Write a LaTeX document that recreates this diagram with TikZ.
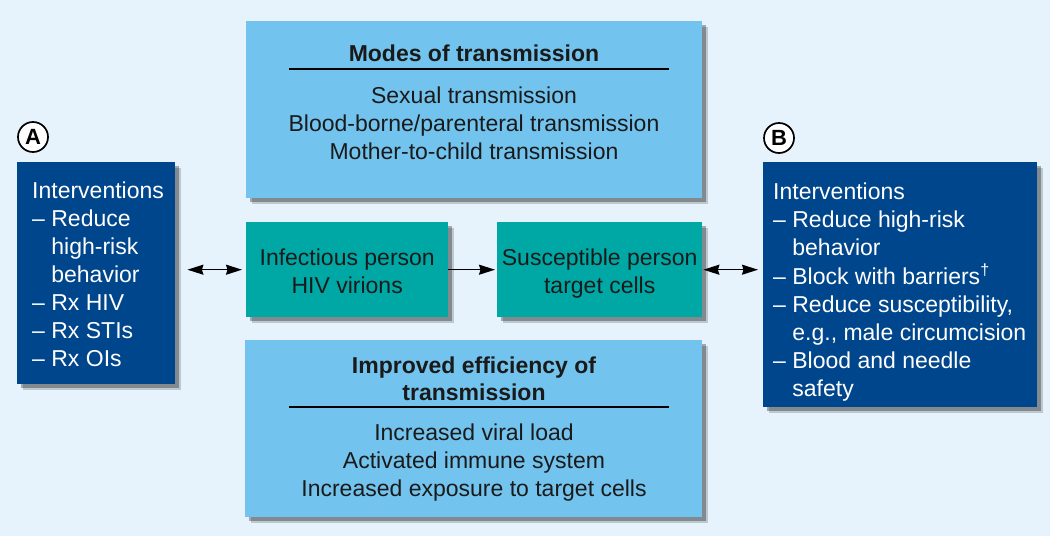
\documentclass[tikz,border=0pt]{standalone}
\usepackage{fontspec}
\setmainfont{Liberation Sans}
\usetikzlibrary{shadows,arrows.meta}
\definecolor{bg}{HTML}{E6F3FC}
\definecolor{lblue}{HTML}{72C3EE}
\definecolor{teal2}{HTML}{00A8A5}
\definecolor{dblue}{HTML}{00468C}
\definecolor{ink}{HTML}{1A1A1A}
\begin{document}
\begin{tikzpicture}[x=1pt,y=-1pt,
  font=\fontsize{23}{28}\selectfont,
  shadowed/.style={drop shadow={shadow xshift=6pt,shadow yshift=-6pt,opacity=0.18,fill=black},
                   drop shadow={shadow xshift=4pt,shadow yshift=-4pt,opacity=0.3,fill=black}},
  boxbase/.style={anchor=north west, inner sep=0pt, shadowed},
  lbox/.style={boxbase, fill=lblue},
  tbox/.style={boxbase, fill=teal2},
  dbox/.style={boxbase, fill=dblue},
  txt/.style={inner sep=0pt, text=ink},
  wtxt/.style={inner sep=0pt, text=white, anchor=base west},
  circ/.style={circle, draw=black, line width=1.7pt, fill=white, minimum size=30pt, inner sep=0pt, font=\fontsize{22}{24}\selectfont\bfseries},
  arr/.style={line width=1.4pt, draw=black, arrows={Stealth[length=16pt,width=10pt,inset=1.5pt]-Stealth[length=16pt,width=10pt,inset=1.5pt]}},
  arrone/.style={line width=1.4pt, draw=black, arrows={-Stealth[length=16pt,width=10pt,inset=1.5pt]}},
  rulel/.style={line width=1.3pt, draw=black}
]
\fill[bg] (0,0) rectangle (1050,536);
\useasboundingbox (0,0) rectangle (1050,536);

% top box
\node[lbox, minimum width=456pt, minimum height=177pt] (modes) at (246,21) {};
\node[txt, anchor=base, font=\fontsize{23}{28}\selectfont\bfseries] (modest) at (474,61) {Modes of transmission};
\coordinate (mr1) at (289,69);
\coordinate (mr2) at (669,69);
\draw[rulel] (mr1) -- (mr2);
\node[txt, anchor=base] (modesl) at (474,103) {\begin{tabular}[t]{@{}c@{}}Sexual transmission\\Blood-borne/parenteral transmission\\Mother-to-child transmission\end{tabular}};

% bottom box
\node[lbox, minimum width=457pt, minimum height=177pt] (eff) at (245,340) {};
\node[txt, anchor=base, font=\fontsize{23}{27}\selectfont\bfseries] (efft) at (474,373) {\begin{tabular}[t]{@{}c@{}}Improved efficiency of\\transmission\end{tabular}};
\coordinate (er1) at (289,407);
\coordinate (er2) at (669,407);
\draw[rulel] (er1) -- (er2);
\node[txt, anchor=base] (effl) at (474,440) {\begin{tabular}[t]{@{}c@{}}Increased viral load\\Activated immune system\\Increased exposure to target cells\end{tabular}};

% teal boxes
\node[tbox, minimum width=202pt, minimum height=95pt] (inf) at (246,222) {};
\node[txt, anchor=base] (inft) at (inf.center |- 0,265) {\begin{tabular}[t]{@{}c@{}}Infectious person\\HIV virions\end{tabular}};
\node[tbox, minimum width=205pt, minimum height=95pt] (sus) at (497,222) {};
\node[txt, anchor=base] (sust) at (sus.center |- 0,265) {\begin{tabular}[t]{@{}c@{}}Susceptible person\\target cells\end{tabular}};

% left box A
\node[circ] (ca) at (33,137) {A};
\node[dbox, minimum width=158pt, minimum height=222pt] (boxa) at (17,162) {};
\node[wtxt] (boxat) at (32,198) {\begin{tabular}[t]{@{}l@{}}Interventions\\
– Reduce\\
\phantom{– }high-risk\\
\phantom{– }behavior\\
– Rx HIV\\
– Rx STIs\\
– Rx OIs\end{tabular}};

% right box B
\node[circ] (cb) at (779,138) {B};
\node[dbox, minimum width=274pt, minimum height=245pt] (boxb) at (763,162) {};
\node[wtxt] (boxbt) at (773,199) {\begin{tabular}[t]{@{}l@{}}Interventions\\
– Reduce high-risk\\
\phantom{– }behavior\\
– Block with barriers\textsuperscript{†}\\
– Reduce susceptibility,\\
\phantom{– }e.g., male circumcision\\
– Blood and needle\\
\phantom{– }safety\end{tabular}};

% connectors
\draw[arr, shorten <=12pt, shorten >=4pt] (boxa.east |- inf.west) -- (inf.west);
\draw[arrone, shorten >=2pt] (inf.east) -- (sus.west);
\draw[arr, shorten <=1pt, shorten >=5pt] (sus.east) -- (boxb.west |- sus.east);
\end{tikzpicture}
\end{document}
